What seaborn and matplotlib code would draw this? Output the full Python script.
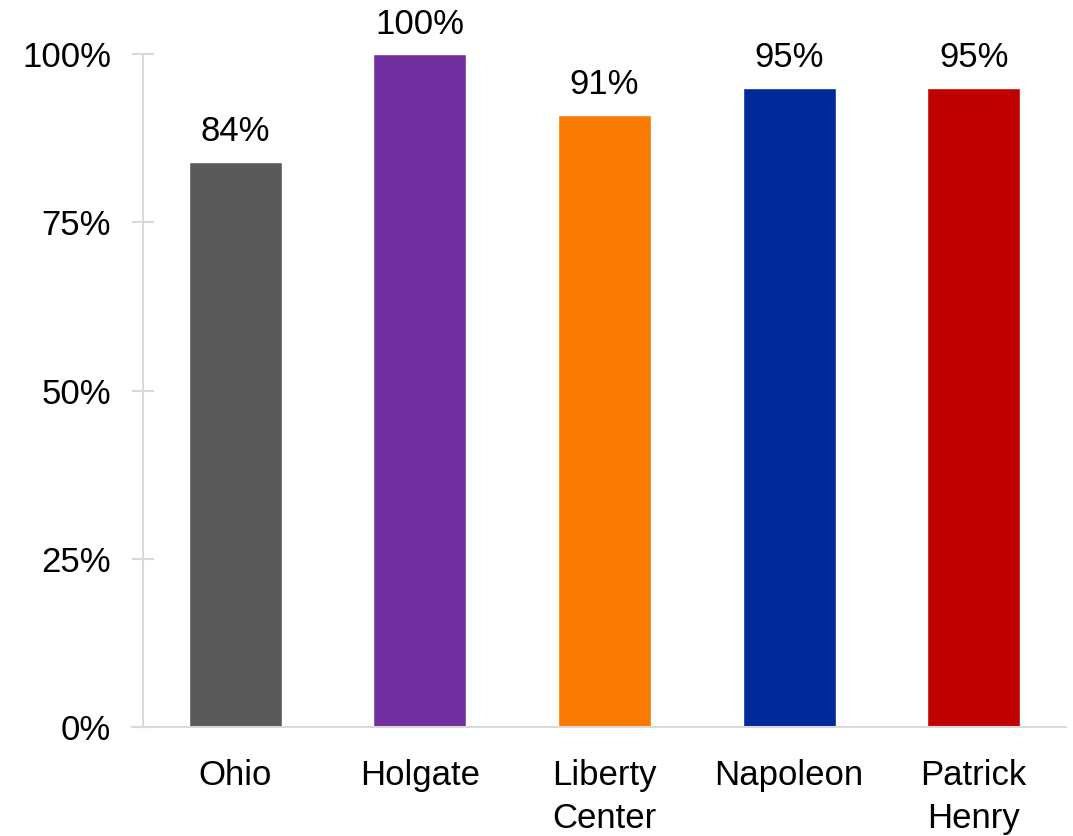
import pandas as pd
import seaborn as sns
import matplotlib.pyplot as plt

# Chart data
districts = ["Ohio", "Holgate", "Liberty\nCenter", "Napoleon", "Patrick\nHenry"]
rates = [84, 100, 91, 95, 95]
colors = ["#595959", "#7030A0", "#F97A00", "#002A9A", "#C00000"]
yticks = [0, 25, 50, 75, 100]

df = pd.DataFrame({"district": districts, "rate": rates})

sns.set_style("white")
plt.rcParams["font.family"] = ["Liberation Sans", "DejaVu Sans"]

fig = plt.figure(figsize=(10.73, 8.36), dpi=100)
ax = fig.add_axes([143 / 1073, (836 - 727) / 836, (1066 - 143) / 1073, (727 - 54) / 836])

sns.barplot(data=df, x="district", y="rate", hue="district", palette=colors,
            legend=False, width=0.504, saturation=1, ax=ax)

# value labels
for i, v in enumerate(rates):
    ax.text(i, v + 2.0, f"{v}%", ha="center", va="bottom", fontsize=25, color="black")

ax.set_xlim(-0.5, 4.5)
ax.set_ylim(0, 100)
ax.set_yticks(yticks)
ax.set_yticklabels([f"{t}%" for t in yticks], fontsize=25)
ax.tick_params(axis="x", length=0, labelsize=25, pad=23, labelcolor="black")
ax.tick_params(axis="y", left=True, direction="inout", length=16, width=1.5,
               color="#D9D9D9", pad=15, labelcolor="black")
for lab in ax.get_xticklabels():
    lab.set_linespacing(1.4)
ax.set_xlabel("")
ax.set_ylabel("")

for side in ["top", "right"]:
    ax.spines[side].set_visible(False)
for side in ["left", "bottom"]:
    ax.spines[side].set_color("#D9D9D9")
    ax.spines[side].set_linewidth(1.5)
ax.spines["bottom"].set_bounds(-0.5 - 11 / 184.5, 4.5)

fig.savefig("out.png", dpi=100)
